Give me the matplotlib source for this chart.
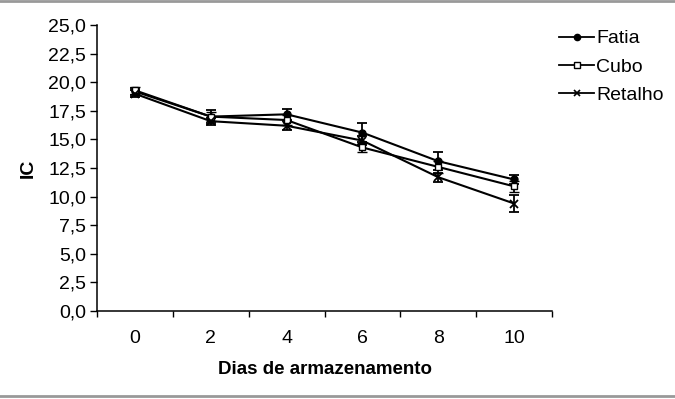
import matplotlib
matplotlib.use("Agg")
import matplotlib.pyplot as plt
from matplotlib.lines import Line2D
import numpy as np

plt.rcParams['font.family'] = ['Liberation Sans', 'DejaVu Sans']

dias = ["0", "2", "4", "6", "8", "10"]
fatia = [19.2, 17.0, 17.2, 15.6, 13.1, 11.5]
fatia_err = [0.3, 0.6, 0.5, 0.8, 0.8, 0.4]
cubo = [19.3, 17.0, 16.7, 14.3, 12.6, 10.9]
cubo_err = [0.3, 0.4, 0.4, 0.4, 0.5, 0.5]
retalho = [19.0, 16.6, 16.2, 14.9, 11.7, 9.4]
retalho_err = [0.3, 0.3, 0.4, 0.4, 0.4, 0.7]
yticks = [0.0, 2.5, 5.0, 7.5, 10.0, 12.5, 15.0, 17.5, 20.0, 22.5, 25.0]

fig = plt.figure(figsize=(6.75, 3.99), dpi=100)
ax = fig.add_axes([0.1437, 0.2206, 0.8178 - 0.1437, 0.937 - 0.2206])

x = np.arange(len(dias)) + 0.5
common = dict(color='black', lw=1.5, capsize=3.5, elinewidth=1.3, capthick=1.3)
ax.errorbar(x, fatia, yerr=fatia_err, marker='o', ms=5, mfc='black', mec='black', **common)
ax.errorbar(x, cubo, yerr=cubo_err, marker='s', ms=4.5, mfc='white', mec='black', mew=1.0, **common)
ax.errorbar(x, retalho, yerr=retalho_err, marker='x', ms=6, mec='black', mew=1.3, **common)

ax.set_xlim(0, len(dias))
ax.set_ylim(0, 25)
ax.set_xticks(np.arange(len(dias) + 1))
ax.set_xticklabels([])
ax.set_xticks(x, minor=True)
ax.set_xticklabels(dias, minor=True)
ax.tick_params(axis='x', which='minor', length=0, pad=14, labelsize=14)
ax.tick_params(axis='x', which='major', length=4, width=1, direction='out')
ax.set_yticks(yticks)
ax.set_yticklabels([f"{v:.1f}".replace('.', ',') for v in yticks])
ax.tick_params(axis='y', length=5, width=1, direction='out', pad=3, labelsize=14)

for s in ['top', 'right']:
    ax.spines[s].set_visible(False)
for s in ['left', 'bottom']:
    ax.spines[s].set_linewidth(1.1)

ax.set_xlabel('Dias de armazenamento', fontsize=13.5, fontweight='bold', labelpad=10)
ax.set_ylabel('IC', fontsize=14, fontweight='bold', labelpad=8)

handles = [
    Line2D([], [], color='black', lw=1.3, marker='o', ms=4.5, mfc='black', mec='black'),
    Line2D([], [], color='black', lw=1.3, marker='s', ms=4, mfc='white', mec='black', mew=1.0),
    Line2D([], [], color='black', lw=1.3, marker='x', ms=5, mec='black', mew=1.2),
]
labels = ['Fatia', 'Cubo', 'Retalho']
leg = fig.legend(handles, labels, loc='upper left', bbox_to_anchor=(0.817, 0.945),
                 frameon=False, fontsize=14, handlelength=1.8, handletextpad=0.1,
                 labelspacing=0.55, borderaxespad=0)

fig.add_artist(Line2D([0, 1], [0.998, 0.998], transform=fig.transFigure, color='#999999', lw=2))
fig.add_artist(Line2D([0, 1], [0.008, 0.008], transform=fig.transFigure, color='#999999', lw=2))

fig.savefig('out.png', dpi=100)
